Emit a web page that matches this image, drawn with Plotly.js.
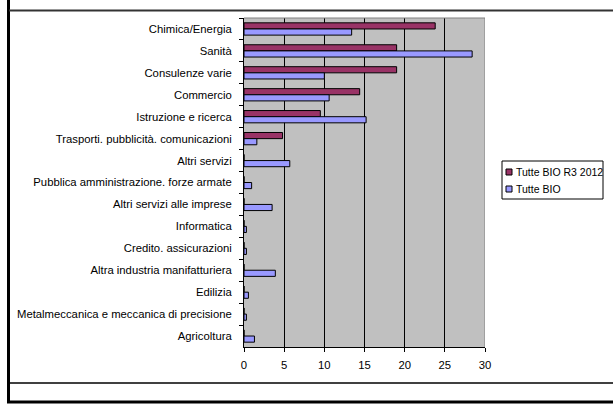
<!DOCTYPE html>
<html>
<head>
<meta charset="utf-8">
<script src="https://cdn.plot.ly/plotly-3.0.1.min.js"></script>
<style>
  html, body { margin: 0; padding: 0; background: #ffffff; }
  #chart { width: 613px; height: 406px; }
</style>
</head>
<body>
<div id="chart"></div>
<script>
// Categories, top to bottom
const categories = [
  "Chimica/Energia",
  "Sanità",
  "Consulenze varie",
  "Commercio",
  "Istruzione e ricerca",
  "Trasporti. pubblicità. comunicazioni",
  "Altri servizi",
  "Pubblica amministrazione. forze armate",
  "Altri servizi alle imprese",
  "Informatica",
  "Credito. assicurazioni",
  "Altra industria manifatturiera",
  "Edilizia",
  "Metalmeccanica e meccanica di precisione",
  "Agricoltura"
];
const seriesNames = ["Tutte BIO R3 2012", "Tutte BIO"];
const r3Values  = [23.8, 19.0, 19.0, 14.4, 9.5, 4.8, 0, 0, 0, 0, 0, 0, 0, 0, 0];
const bioValues = [13.4, 28.4, 10.0, 10.6, 15.2, 1.6, 5.7, 0.95, 3.5, 0.3, 0.3, 3.9, 0.55, 0.3, 1.3];
const xTicks = [0, 5, 10, 15, 20, 25, 30];

const colR3 = "#993366";
const colBio = "#9999FF";
const font = "Liberation Sans, Arial, sans-serif";

// plot area in pixels
const L = 244, R = 485, T = 18, B = 347, W = 613, H = 406;
const px2x = p => (p - L) / (R - L);
const py2y = p => (B - p) / (B - T);

const traces = [
  { type: "bar", orientation: "h", name: seriesNames[0], y: categories, x: r3Values,
    marker: { color: colR3, line: { color: "#000000", width: 1 } }, hoverinfo: "x+y" },
  { type: "bar", orientation: "h", name: seriesNames[1], y: categories, x: bioValues,
    marker: { color: colBio, line: { color: "#000000", width: 1 } }, hoverinfo: "x+y" }
];

const line = (x0, y0, x1, y1, color, width, layer) => ({
  type: "line", xref: "paper", yref: "paper",
  x0: px2x(x0), y0: py2y(y0), x1: px2x(x1), y1: py2y(y1),
  line: { color: color, width: width }, layer: layer || "above"
});

const shapes = [
  // plot border (top & right gray)
  { type: "line", xref: "x", yref: "paper", x0: 30, x1: 30, y0: 0, y1: 1, line: { color: "#808080", width: 1 }, layer: "above" },
  { type: "line", xref: "paper", yref: "paper", x0: 0, x1: 1, y0: 1, y1: 1, line: { color: "#808080", width: 1 }, layer: "above" },
  // outer frame
  line(8.5, 0, 8.5, 403, "#000000", 3),
  line(9, 10.5, 613, 10.5, "#333333", 2),
  line(9, 383, 613, 383, "#000000", 1.5),
  line(7, 402, 613, 402, "#000000", 3),
  // legend box
  { type: "rect", xref: "paper", yref: "paper", x0: px2x(502), x1: px2x(603), y0: py2y(161), y1: py2y(199),
    line: { color: "#000000", width: 1 }, fillcolor: "#ffffff", layer: "above" },
  { type: "rect", xref: "paper", yref: "paper", x0: px2x(506), x1: px2x(512), y0: py2y(169), y1: py2y(175),
    line: { color: "#000000", width: 1 }, fillcolor: colR3, layer: "above" },
  { type: "rect", xref: "paper", yref: "paper", x0: px2x(506), x1: px2x(512), y0: py2y(186), y1: py2y(192),
    line: { color: "#000000", width: 1 }, fillcolor: colBio, layer: "above" }
];

const annotations = [
  { xref: "paper", yref: "paper", x: px2x(514), y: py2y(172), xanchor: "left", yanchor: "middle",
    text: seriesNames[0], showarrow: false, font: { family: font, size: 10.5, color: "#000" } },
  { xref: "paper", yref: "paper", x: px2x(514), y: py2y(189), xanchor: "left", yanchor: "middle",
    text: seriesNames[1], showarrow: false, font: { family: font, size: 10.5, color: "#000" } }
];

const layout = {
  width: W, height: H,
  margin: { l: L, r: W - R, t: T, b: H - B, pad: 0 },
  paper_bgcolor: "#ffffff",
  plot_bgcolor: "#C0C0C0",
  showlegend: false,
  barmode: "group",
  bargap: 0.44,
  bargroupgap: 0,
  font: { family: font, size: 11.3, color: "#000000" },
  xaxis: {
    range: [0, 30], tickvals: xTicks, ticktext: xTicks.map(String),
    showgrid: true, gridcolor: "#000000", gridwidth: 1,
    zeroline: false, showline: true, linecolor: "#000000", linewidth: 1,
    ticks: "outside", ticklen: 4, tickcolor: "#000000",
    ticklabelstandoff: 3,
    tickfont: { family: font, size: 11.3, color: "#000000" }, fixedrange: true
  },
  yaxis: {
    type: "category", categoryorder: "array", categoryarray: categories,
    autorange: "reversed",
    showgrid: false, zeroline: false, showline: true, linecolor: "#000000", linewidth: 1,
    ticks: "outside", ticklen: 4, tickcolor: "#000000", tickson: "boundaries",
    ticklabelstandoff: 9,
    tickfont: { family: font, size: 11.3, color: "#000000" }, fixedrange: true
  },
  shapes: shapes,
  annotations: annotations
};

Plotly.newPlot("chart", traces, layout, { staticPlot: true, displayModeBar: false });
</script>
</body>
</html>
